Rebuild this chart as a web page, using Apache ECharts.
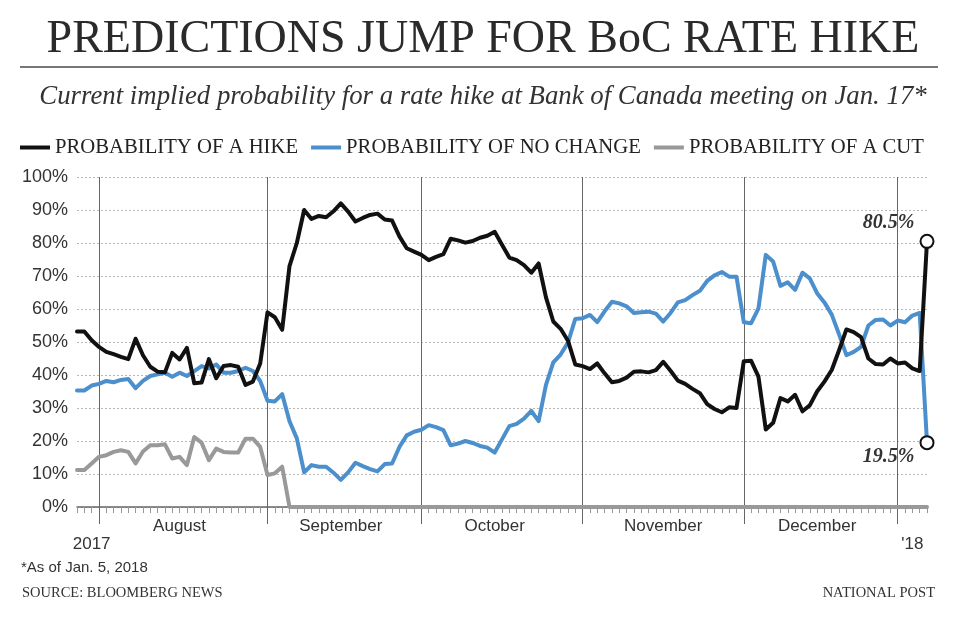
<!DOCTYPE html>
<html>
<head>
<meta charset="utf-8">
<style>
html,body{margin:0;padding:0;background:#fff;}
#chart{width:966px;height:639px;}
</style>
<script src="https://cdn.jsdelivr.net/npm/echarts@6/dist/echarts.min.js"></script>
</head>
<body>
<div id="chart"></div>
<script>
// Business days from Jul 27, 2017 to Jan 5, 2018
const categories = [
  '2017-07-27','2017-07-28','2017-07-31',
  '2017-08-01','2017-08-02','2017-08-03','2017-08-04','2017-08-07','2017-08-08','2017-08-09','2017-08-10','2017-08-11',
  '2017-08-14','2017-08-15','2017-08-16','2017-08-17','2017-08-18','2017-08-21','2017-08-22','2017-08-23','2017-08-24','2017-08-25',
  '2017-08-28','2017-08-29','2017-08-30','2017-08-31',
  '2017-09-01','2017-09-04','2017-09-05','2017-09-06','2017-09-07','2017-09-08','2017-09-11','2017-09-12','2017-09-13','2017-09-14',
  '2017-09-15','2017-09-18','2017-09-19','2017-09-20','2017-09-21','2017-09-22','2017-09-25','2017-09-26','2017-09-27','2017-09-28','2017-09-29',
  '2017-10-02','2017-10-03','2017-10-04','2017-10-05','2017-10-06','2017-10-09','2017-10-10','2017-10-11','2017-10-12','2017-10-13',
  '2017-10-16','2017-10-17','2017-10-18','2017-10-19','2017-10-20','2017-10-23','2017-10-24','2017-10-25','2017-10-26','2017-10-27',
  '2017-10-30','2017-10-31',
  '2017-11-01','2017-11-02','2017-11-03','2017-11-06','2017-11-07','2017-11-08','2017-11-09','2017-11-10','2017-11-13','2017-11-14',
  '2017-11-15','2017-11-16','2017-11-17','2017-11-20','2017-11-21','2017-11-22','2017-11-23','2017-11-24','2017-11-27','2017-11-28',
  '2017-11-29','2017-11-30',
  '2017-12-01','2017-12-04','2017-12-05','2017-12-06','2017-12-07','2017-12-08','2017-12-11','2017-12-12','2017-12-13','2017-12-14',
  '2017-12-15','2017-12-18','2017-12-19','2017-12-20','2017-12-21','2017-12-22','2017-12-25','2017-12-26','2017-12-27','2017-12-28',
  '2017-12-29',
  '2018-01-01','2018-01-02','2018-01-03','2018-01-04','2018-01-05'
];

const hike = [
  53.2, 53.2, 50.5, 48.5, 47, 46.3, 45.5, 44.8, 51, 46,
  42.5, 41, 40.8, 46.7, 44.7, 48.2, 37.5, 37.7, 44.8, 39,
  42.7, 43, 42.5, 37, 38, 43.5, 59, 57.5, 53.7, 73,
  80, 90, 87.3, 88.2, 87.8, 89.6, 92, 89.5, 86.5, 87.6,
  88.5, 88.9, 87.1, 86.8, 82, 78.4, 77.4, 76.4, 74.8, 75.8,
  76.6, 81.3, 80.8, 80.1, 80.6, 81.6, 82.2, 83.4, 79.5, 75.6,
  74.8, 73.3, 71, 73.8, 63.5, 56.2, 54, 50.4, 43.2, 42.7,
  41.8, 43.5, 40.5, 37.8, 38.2, 39.2, 41, 41.1, 40.8, 41.5,
  44, 41.3, 38.3, 37.3, 35.8, 34.5, 31.2, 29.7, 28.7, 30.2,
  30, 44.2, 44.3, 39.5, 23.5, 25.5, 33, 32, 34, 29,
  30.8, 35, 38, 41.5, 47.5, 53.8, 53, 51.5, 45, 43.3,
  43.2, 45, 43.5, 43.8, 42, 41.2, 80.5
];

const noChange = [
  35.3, 35.3, 36.8, 37.3, 38.2, 37.8, 38.5, 38.8, 36, 38.2,
  39.7, 40.2, 40.7, 39.5, 40.7, 39.7, 41.2, 42.7, 42, 43.2,
  40.7, 40.7, 41.2, 42.2, 41.2, 38.2, 32.2, 32, 34.2, 26,
  20.8, 10.5, 12.7, 12.2, 12.2, 10.4, 8.2, 10.5, 13.4, 12.4,
  11.5, 10.8, 13, 13.2, 18.2, 21.7, 22.8, 23.4, 24.8, 24.2,
  23.3, 18.7, 19.2, 20, 19.4, 18.5, 18, 16.5, 20.5, 24.5,
  25.2, 26.8, 29.1, 26, 37, 43.8, 46.2, 49.8, 57, 57.2,
  58.2, 56, 59.3, 62.2, 61.7, 60.8, 58.8, 59, 59.2, 58.6,
  56.2, 58.8, 62, 62.7, 64.2, 65.5, 68.5, 70.2, 71.2, 69.8,
  69.8, 56, 55.7, 60.2, 76.4, 74.4, 67, 68.1, 65.8, 71,
  69.3, 64.8, 62, 58.3, 52.3, 46, 47, 48.5, 55, 56.7,
  56.8, 55, 56.5, 56, 58, 58.8, 19.5
];

const cut = [
  11.2, 11.2, 13.2, 15.2, 15.7, 16.7, 17.2, 16.7, 13.2, 16.8,
  18.7, 18.7, 19, 14.7, 15.2, 12.7, 21.2, 19.5, 14.2, 17.7,
  16.7, 16.5, 16.5, 20.7, 20.7, 18.2, 9.7, 10.2, 12.2, 0,
  0, 0, 0, 0, 0, 0, 0, 0, 0, 0,
  0, 0, 0, 0, 0, 0, 0, 0, 0, 0,
  0, 0, 0, 0, 0, 0, 0, 0, 0, 0,
  0, 0, 0, 0, 0, 0, 0, 0, 0, 0,
  0, 0, 0, 0, 0, 0, 0, 0, 0, 0,
  0, 0, 0, 0, 0, 0, 0, 0, 0, 0,
  0, 0, 0, 0, 0, 0, 0, 0, 0, 0,
  0, 0, 0, 0, 0, 0, 0, 0, 0, 0,
  0, 0, 0, 0, 0, 0, 0
];

const seriesNames = ['PROBABILITY OF A HIKE', 'PROBABILITY OF NO CHANGE', 'PROBABILITY OF A CUT'];
const monthStartDates = ['2017-08-01', '2017-09-01', '2017-10-02', '2017-11-01', '2017-12-01', '2018-01-01'];
const monthLabelDates = ['2017-08-16', '2017-09-15', '2017-10-16', '2017-11-16', '2017-12-15'];
const monthNames = ['August', 'September', 'October', 'November', 'December'];
const yearLabelDates = ['2017-07-31', '2018-01-03'];
const yearNames = ['2017', "'18"];

const SERIF = '"Liberation Serif", "DejaVu Serif", serif';
const SANS = '"Liberation Sans", Arial, sans-serif';

function withEndMarker(arr, labelOffset) {
  return arr.map(function (v, i) {
    if (i !== arr.length - 1) return v;
    return {
      value: v,
      symbol: 'circle',
      symbolSize: 13,
      itemStyle: { color: '#fff', borderColor: '#111', borderWidth: 2 },
      label: {
        show: true, position: 'left', distance: 5, offset: labelOffset,
        formatter: '{c}%', fontFamily: SERIF, fontStyle: 'italic', fontWeight: 'bold',
        fontSize: 20, color: '#333'
      }
    };
  });
}

const chart = echarts.init(document.getElementById('chart'), null, { renderer: 'canvas' });

const option = {
  backgroundColor: '#fff',
  animation: false,
  title: [
    { text: 'PREDICTIONS JUMP FOR BoC RATE HIKE', left: 'center', top: 17, padding: 0,
      textStyle: { fontFamily: SERIF, fontSize: 46, fontWeight: 'normal', color: '#2a2a2a' } },
    { text: 'Current implied probability for a rate hike at Bank of Canada meeting on Jan. 17*', left: 'center', top: 83, padding: 0,
      textStyle: { fontFamily: SERIF, fontStyle: 'italic', fontSize: 26.8, fontWeight: 'normal', color: '#333' } },
    { text: '*As of Jan. 5, 2018', left: 21, top: 560, padding: 0,
      textStyle: { fontFamily: SANS, fontSize: 15, fontWeight: 'normal', color: '#333' } },
    { text: 'SOURCE: BLOOMBERG NEWS', left: 22, top: 586, padding: 0,
      textStyle: { fontFamily: SERIF, fontSize: 14.5, fontWeight: 'normal', color: '#333' } },
    { text: 'NATIONAL POST', right: 31, top: 586, padding: 0,
      textStyle: { fontFamily: SERIF, fontSize: 14.5, fontWeight: 'normal', color: '#333' } }
  ],
  graphic: [
    { type: 'line', shape: { x1: 20, y1: 67, x2: 938, y2: 67 }, style: { stroke: '#777', lineWidth: 2 } }
  ],
  legend: {
    data: seriesNames,
    left: 20, top: 137, padding: 0,
    icon: 'rect', itemWidth: 30, itemHeight: 4, itemGap: 13,
    selectedMode: false,
    textStyle: { fontFamily: SERIF, fontSize: 20.7, color: '#222' }
  },
  grid: { left: 77, right: 39, top: 177, bottom: 132 },
  xAxis: [
    {
      type: 'category', data: categories, boundaryGap: false, position: 'bottom',
      axisLine: { show: true, onZero: false, lineStyle: { color: '#666', width: 1.5 } },
      axisTick: { show: true, interval: 0, length: 6, lineStyle: { color: '#999', width: 1 } },
      axisLabel: {
        interval: function (i, v) { return monthLabelDates.indexOf(v) >= 0; },
        formatter: function (v) { return monthNames[monthLabelDates.indexOf(v)]; },
        margin: 11, fontFamily: SANS, fontSize: 17, color: '#333'
      },
      splitLine: {
        show: true,
        interval: function (i, v) { return monthStartDates.indexOf(v) >= 0; },
        lineStyle: { color: '#666', width: 1 }
      }
    },
    {
      type: 'category', data: categories, boundaryGap: false, position: 'bottom',
      axisLine: { show: false },
      axisTick: {
        show: true,
        interval: function (i, v) { return monthStartDates.indexOf(v) >= 0; },
        length: 17, lineStyle: { color: '#666', width: 1 }
      },
      axisLabel: {
        interval: function (i, v) { return yearLabelDates.indexOf(v) >= 0; },
        formatter: function (v) { return yearNames[yearLabelDates.indexOf(v)]; },
        margin: 29, fontFamily: SANS, fontSize: 17, color: '#333'
      },
      splitLine: { show: false }
    }
  ],
  yAxis: {
    type: 'value', min: 0, max: 100, interval: 10,
    axisLine: { show: false }, axisTick: { show: false },
    axisLabel: { formatter: '{value}%', margin: 9, fontFamily: SANS, fontSize: 18, color: '#333' },
    splitLine: { show: true, lineStyle: { color: '#b8b8b8', type: [2, 2], width: 1 } }
  },
  series: [
    {
      name: seriesNames[0], type: 'line', data: withEndMarker(hike, [0, -19]),
      symbol: 'none', showAllSymbol: true, z: 5,
      lineStyle: { color: '#111', width: 4, join: 'round', cap: 'round' },
      itemStyle: { color: '#111' }, emphasis: { disabled: true }
    },
    {
      name: seriesNames[1], type: 'line', data: withEndMarker(noChange, [0, 14]),
      symbol: 'none', showAllSymbol: true, z: 4,
      lineStyle: { color: '#4b8fcc', width: 4, join: 'round', cap: 'round' },
      itemStyle: { color: '#4b8fcc' }, emphasis: { disabled: true }
    },
    {
      name: seriesNames[2], type: 'line', data: cut,
      symbol: 'none', z: 3,
      lineStyle: { color: '#999', width: 4, join: 'round', cap: 'round' },
      itemStyle: { color: '#999' }, emphasis: { disabled: true }
    }
  ]
};

chart.setOption(option);
</script>
</body>
</html>
